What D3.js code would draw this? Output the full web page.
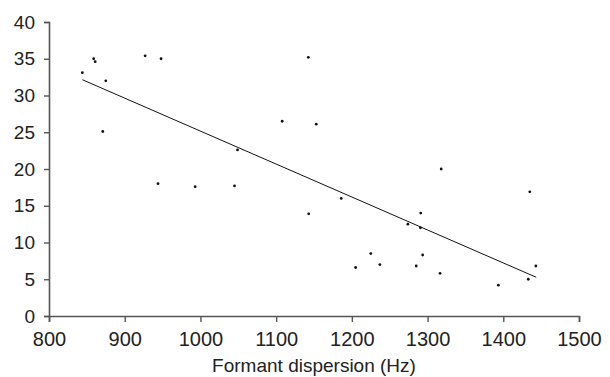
<!DOCTYPE html>
<html>
<head>
<meta charset="utf-8">
<script src="https://cdn.jsdelivr.net/npm/d3@7"></script>
<style>
  body { margin: 0; background: #fff; }
  text { font-family: "Liberation Sans", Arial, sans-serif; fill: #222; }
</style>
</head>
<body>
<div id="chart"></div>
<script>
// formant dispersion (Hz) and the y value of each point
const dispersion = [844, 859, 861, 875, 871, 927, 948, 1049, 1108, 1142.5, 1153,
  944, 993, 1045, 1143, 1186, 1274, 1291, 1290.5, 1225, 1205, 1237, 1285, 1293.5,
  1316.5, 1393.5, 1433, 1443, 1435, 1318];
const values = [33.1, 35.0, 34.6, 32.0, 25.1, 35.4, 35.0, 22.6, 26.5, 35.2, 26.1,
  18.0, 17.6, 17.7, 13.9, 16.0, 12.5, 14.0, 12.0, 8.5, 6.6, 7.0, 6.8, 8.3,
  5.8, 4.2, 5.0, 6.8, 16.9, 20.0];
// ends of the fitted line
const trendX = [844, 1443.5];
const trendY = [32.15, 5.27];
const xTicks = [800, 900, 1000, 1100, 1200, 1300, 1400, 1500];
const yTicks = [0, 5, 10, 15, 20, 25, 30, 35, 40];

const margin = {top: 22, right: 31, bottom: 61, left: 49};
const width = 610 - margin.left - margin.right, height = 377 - margin.top - margin.bottom;

const svg = d3.select("#chart").append("svg")
  .attr("width", 610).attr("height", 377)
  .append("g")
  .attr("transform", `translate(${margin.left}, ${margin.top})`);

const x = d3.scaleLinear().domain([800, 1500]).range([0, width]);
const y = d3.scaleLinear().domain([0, 40]).range([height, 0]);

const xAxis = svg.append("g")
  .attr("transform", `translate(0, ${height})`)
  .call(d3.axisBottom(x).tickValues(xTicks).tickFormat(d3.format("d")).tickSize(6).tickPadding(10));
const yAxis = svg.append("g")
  .call(d3.axisLeft(y).tickValues(yTicks).tickSize(5).tickPadding(9));

[xAxis, yAxis].forEach(g => {
  g.attr("font-family", null).attr("font-size", null);
  g.select(".domain").attr("stroke", "#555").attr("stroke-width", 1.6);
  g.selectAll(".tick line").attr("stroke", "#555").attr("stroke-width", 1.4);
  g.selectAll(".tick text").attr("fill", "#222");
});
xAxis.selectAll(".tick text").attr("font-size", 20);
yAxis.selectAll(".tick text").attr("font-size", 19);

svg.append("line")
  .attr("x1", x(trendX[0])).attr("y1", y(trendY[0]))
  .attr("x2", x(trendX[1])).attr("y2", y(trendY[1]))
  .attr("stroke", "#111").attr("stroke-width", 1);

svg.selectAll(".dot")
  .data(dispersion.map((d, i) => ({x: d, y: values[i]})))
  .join("circle")
  .attr("class", "dot")
  .attr("cx", d => x(d.x)).attr("cy", d => y(d.y))
  .attr("r", 1.4).attr("fill", "#111");

svg.append("text")
  .attr("x", width / 2).attr("y", height + 56)
  .attr("text-anchor", "middle").attr("font-size", 19)
  .text("Formant dispersion (Hz)");
</script>
</body>
</html>
